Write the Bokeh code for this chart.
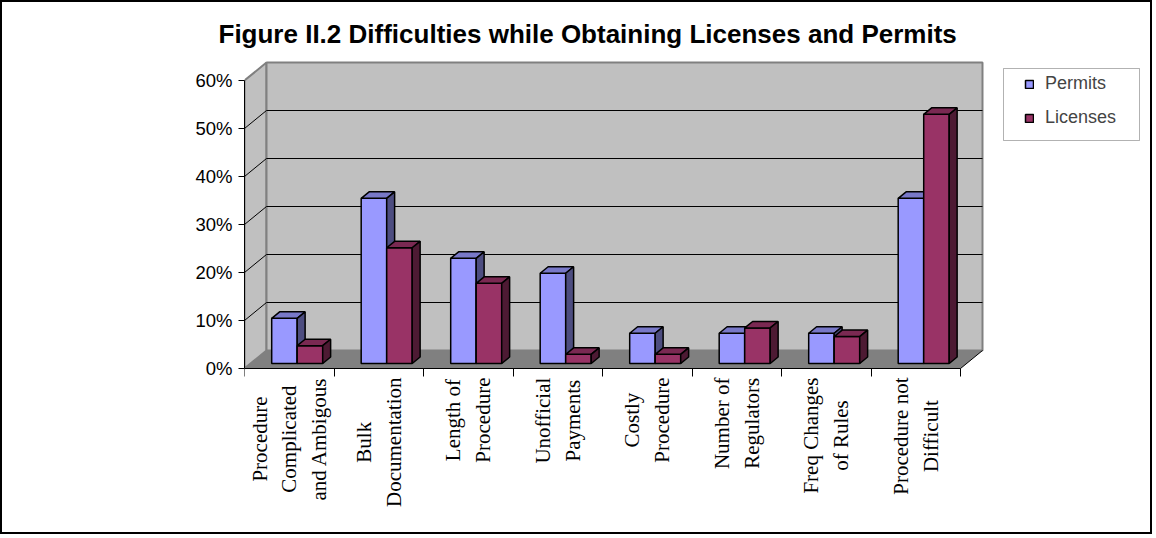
import math
from bokeh.plotting import figure
from bokeh.models import (Range1d, LinearAxis, FixedTicker, Legend, LegendItem,
                          BoxAnnotation, Title)
from bokeh.core.properties import value
from bokeh.embed import file_html
from bokeh.resources import INLINE

# ---------------- data ----------------
categories = [
    "Procedure\nComplicated\nand Ambigous",
    "Bulk\nDocumentation",
    "Length of\nProcedure",
    "Unofficial\nPayments",
    "Costly\nProcedure",
    "Number of\nRegulators",
    "Freq Changes\nof Rules",
    "Procedure not\nDifficult",
]
permits = [9.4, 34.4, 21.9, 18.8, 6.3, 6.3, 6.3, 34.4]
licenses = [3.7, 24.1, 16.7, 1.9, 1.9, 7.4, 5.6, 51.9]
series_names = ["Permits", "Licenses"]
y_ticks = [0, 10, 20, 30, 40, 50, 60]
y_tick_labels = ["0%", "10%", "20%", "30%", "40%", "50%", "60%"]
title_text = "Figure II.2 Difficulties while Obtaining Licenses and Permits"

# ---------------- layout / style (page pixels) ----------------
PW, PH = 1156, 538
BORDER = 2                                   # css border around the figure
W, H = PW - 2 * BORDER, PH - 2 * BORDER      # canvas size
AX_L, AX_B = 244, 368                        # page px of front-left corner (0%)
FRAME_TOP, FRAME_BOTTOM = 58, 520            # page px
n = len(categories)
cat_px = (960 - AX_L) / n                    # px per category
y_px = (AX_B - 80) / 60.0                    # px per percent
dX = 22 / cat_px                             # 3D depth offset (x, data units)
dY = 18 / y_px                               # 3D depth offset (y, data units)


def dx(page_x):
    return (page_x - AX_L) / cat_px


def dy(page_y):
    return (AX_B - page_y) / y_px


# approximate serif advance widths (per 1000 em) to centre the vertical labels
SERIF_W = {" ": 250, "A": 722, "B": 667, "C": 667, "D": 722, "F": 556, "L": 611,
           "N": 722, "P": 556, "R": 667, "U": 722, "a": 444, "b": 500, "c": 444,
           "d": 500, "e": 444, "f": 333, "g": 500, "h": 500, "i": 278, "k": 500,
           "l": 278, "m": 778, "n": 500, "o": 500, "p": 500, "q": 500, "r": 333,
           "s": 389, "t": 278, "u": 500, "y": 500}
LABEL_PX = 21


def block_len(label):
    return max(sum(SERIF_W.get(ch, 500) for ch in line) for line in label.split("\n")) \
        * LABEL_PX / 1000.0


ymax = y_ticks[-1]

front_colors = ["#9999ff", "#993366"]
top_colors = ["#7878c8", "#7a2952"]
side_colors = ["#4d4d80", "#4d1a33"]

p = figure(width=W, height=H,
           x_range=Range1d(0, dx(PW - BORDER)),
           y_range=Range1d(dy(FRAME_BOTTOM), dy(FRAME_TOP)),
           output_backend="svg", toolbar_location=None,
           min_border_left=AX_L - BORDER, min_border_right=0,
           min_border_top=FRAME_TOP - BORDER,
           min_border_bottom=PH - BORDER - FRAME_BOTTOM,
           x_axis_type=None, y_axis_type=None,
           background_fill_color="white", border_fill_color="white",
           outline_line_color=None)
p.styles = {"border": "%dpx solid black" % BORDER}

# walls and floor
p.patch([0, dX, dX, 0], [0, dY, ymax + dY, ymax],
        fill_color="#c0c0c0", line_color="#808080", line_width=2)
p.patch([dX, n + dX, n + dX, dX], [dY, dY, ymax + dY, ymax + dY],
        fill_color="#c0c0c0", line_color="#808080", line_width=2)
p.patch([0, n, n + dX, dX], [0, 0, dY, dY], fill_color="#808080", line_color=None)

grid_vals = [t for t in y_ticks if 0 < t < ymax]
p.segment(x0=[dX] * len(grid_vals), y0=[t + dY for t in grid_vals],
          x1=[n + dX] * len(grid_vals), y1=[t + dY for t in grid_vals],
          line_color="black", line_width=1)
p.segment(x0=[0] * len(grid_vals), y0=grid_vals,
          x1=[dX] * len(grid_vals), y1=[t + dY for t in grid_vals],
          line_color="black", line_width=1)
p.segment(x0=[n], y0=[0], x1=[n + dX], y1=[dY], line_color="black", line_width=1)

# bars (3D)
b0, b1 = 0.28, 0.64
bx0, by0 = b0 * dX, b0 * dY
sx, sy = (b1 - b0) * dX, (b1 - b0) * dY
slots = [(0.235, 0.52), (0.52, 0.805)]
front_renderers = []
for s, vals in enumerate([permits, licenses]):
    lefts = [i + slots[s][0] + bx0 for i in range(n)]
    rights = [i + slots[s][1] + bx0 for i in range(n)]
    bottoms = [by0] * n
    tops = [by0 + v for v in vals]
    r = p.quad(left=lefts, right=rights, bottom=bottoms, top=tops,
               fill_color=front_colors[s], line_color="black", line_width=1.5)
    front_renderers.append(r)
    p.patches(xs=[[l, rr, rr + sx, l + sx] for l, rr in zip(lefts, rights)],
              ys=[[t, t, t + sy, t + sy] for t in tops],
              fill_color=top_colors[s], line_color="black", line_width=1.5)
    p.patches(xs=[[rr, rr + sx, rr + sx, rr] for rr in rights],
              ys=[[by0, by0 + sy, t + sy, t] for t in tops],
              fill_color=side_colors[s], line_color="black", line_width=1.5)

# axes
yaxis = LinearAxis(ticker=FixedTicker(ticks=y_ticks), bounds=(0, ymax),
                   major_label_overrides={t: l for t, l in zip(y_ticks, y_tick_labels)},
                   axis_line_color="black", axis_line_width=1,
                   major_tick_line_color="black", major_tick_out=6, major_tick_in=0,
                   minor_tick_line_color=None, major_label_standoff=6,
                   major_label_text_font="Liberation Sans",
                   major_label_text_font_size="18.5px", major_label_text_color="black")
p.add_layout(yaxis, "left")

x_bounds = list(range(n + 1))
xaxis = LinearAxis(ticker=FixedTicker(ticks=x_bounds), bounds=(0, n),
                   fixed_location=0,
                   major_label_overrides={b: "" for b in x_bounds},
                   axis_line_color="black", axis_line_width=1,
                   major_tick_line_color="black", major_tick_out=8, major_tick_in=0,
                   minor_tick_line_color=None, major_label_standoff=0,
                   major_label_text_font_size="1px")
p.add_layout(xaxis, "below")

# category labels (vertical, lines centred, block hanging below the axis)
cat_centers = [i + 0.5 for i in range(n)]
label_y = [dy(377 + block_len(c) / 2.0) for c in categories]
p.text(x=cat_centers, y=label_y, text=categories, angle=math.pi / 2,
       text_align="center", text_baseline="middle",
       text_font=value("Liberation Serif"), text_font_size="%dpx" % LABEL_PX,
       text_line_height=1.23, text_color="black")

# title
p.add_layout(Title(text=title_text, align="left", offset=218 - AX_L,
                   vertical_align="bottom", standoff=20,
                   text_font="Liberation Sans", text_font_style="bold",
                   text_font_size="26px", text_color="black"), "above")

# legend
legend = Legend(items=[LegendItem(label=series_names[k], renderers=[front_renderers[k]])
                       for k in range(2)],
                location=(1024 - AX_L, FRAME_BOTTOM - 128), padding=0, margin=0,
                spacing=13, label_standoff=11, glyph_width=10, glyph_height=10,
                label_height=20,
                label_text_font="Liberation Sans", label_text_font_size="18px",
                border_line_color=None, background_fill_alpha=0)
p.add_layout(legend)
p.add_layout(BoxAnnotation(left=dx(1003), right=dx(1139), top=dy(68), bottom=dy(140),
                           fill_color=None, line_color="black", line_width=1))

open("out.html", "w").write(file_html(p, INLINE))
